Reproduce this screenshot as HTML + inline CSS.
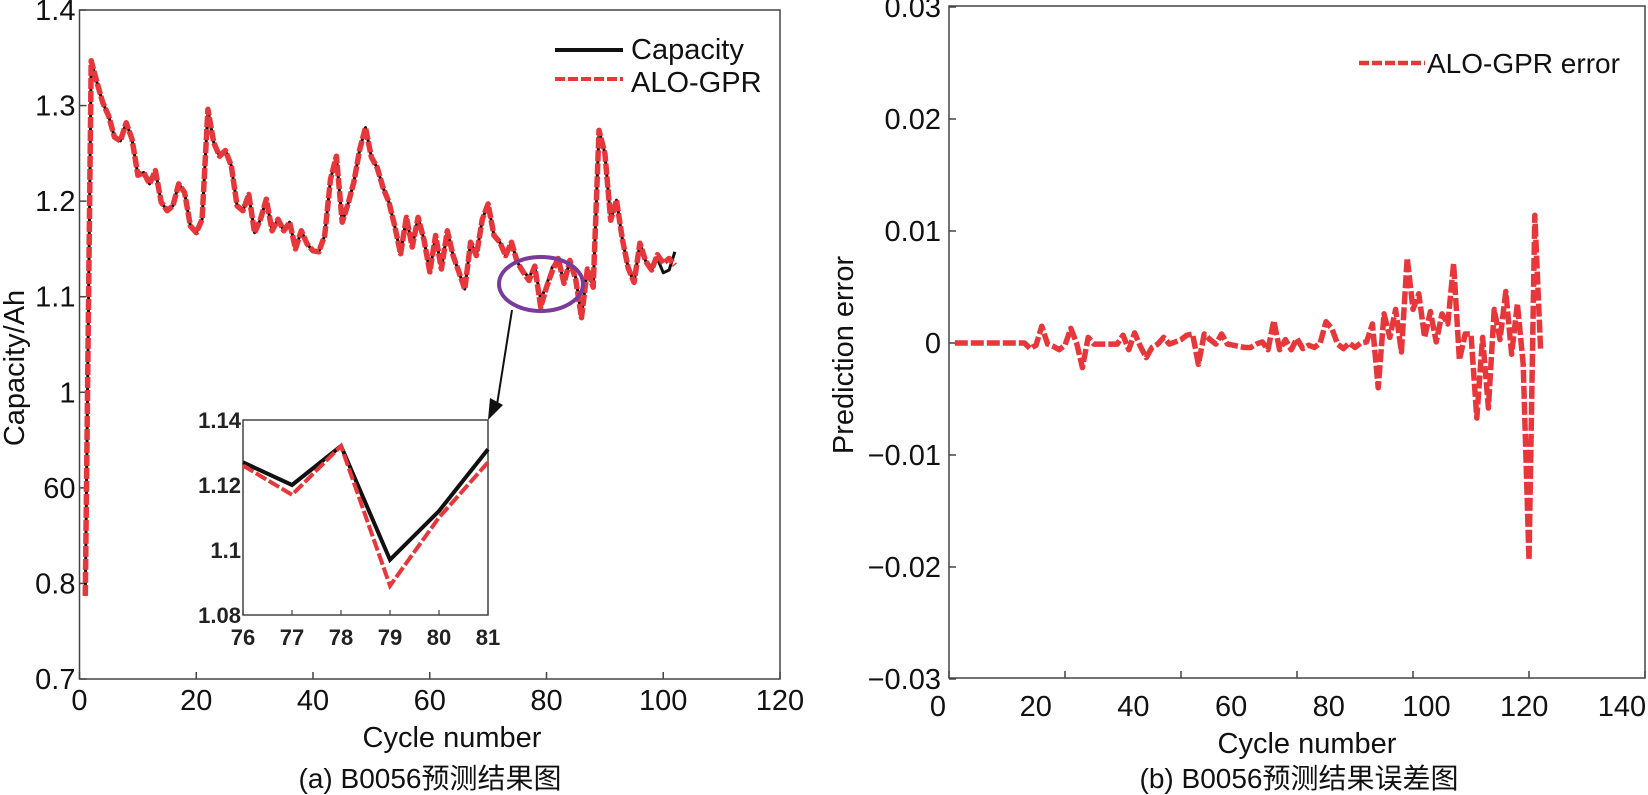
<!DOCTYPE html>
<html><head><meta charset="utf-8"><style>
html,body{margin:0;padding:0;background:#fff;}
svg{display:block;font-family:"Liberation Sans","Noto Sans CJK SC",sans-serif;}
</style></head><body>
<svg id="fig" width="1648" height="795" viewBox="0 0 1648 795">
<g id="left"></g>
<g id="right"></g>
</svg>
<script>
const capCycles=[];for(let i=1;i<=102;i++)capCycles.push(i);
const capacity=[0.787,1.347,1.324,1.303,1.289,1.267,1.263,1.282,1.265,1.227,1.230,1.218,1.232,1.199,1.190,1.195,1.218,1.209,1.174,1.167,1.181,1.296,1.261,1.247,1.253,1.237,1.195,1.190,1.207,1.167,1.181,1.202,1.169,1.181,1.169,1.178,1.150,1.169,1.155,1.148,1.147,1.164,1.223,1.247,1.178,1.197,1.220,1.254,1.277,1.246,1.235,1.214,1.199,1.174,1.145,1.183,1.152,1.183,1.160,1.126,1.164,1.129,1.169,1.143,1.126,1.108,1.157,1.143,1.181,1.197,1.164,1.157,1.143,1.157,1.136,1.127,1.120,1.132,1.097,1.112,1.131,1.140,1.114,1.138,1.120,1.080,1.129,1.110,1.274,1.250,1.180,1.201,1.160,1.130,1.115,1.156,1.137,1.128,1.140,1.125,1.128,1.147];
const predicted=[0.787,1.347,1.324,1.303,1.289,1.267,1.263,1.282,1.265,1.227,1.230,1.218,1.232,1.199,1.190,1.195,1.218,1.209,1.174,1.167,1.181,1.296,1.261,1.247,1.253,1.237,1.195,1.190,1.207,1.167,1.181,1.202,1.169,1.181,1.169,1.178,1.150,1.169,1.155,1.148,1.147,1.164,1.223,1.247,1.178,1.197,1.220,1.254,1.277,1.246,1.235,1.214,1.199,1.174,1.145,1.183,1.152,1.183,1.160,1.126,1.164,1.129,1.169,1.143,1.126,1.108,1.157,1.143,1.181,1.197,1.164,1.157,1.143,1.157,1.136,1.126,1.117,1.132,1.089,1.110,1.127,1.140,1.114,1.138,1.118,1.078,1.129,1.110,1.274,1.250,1.180,1.201,1.160,1.130,1.115,1.156,1.137,1.128,1.144,1.135,1.140,1.133];
const leftXTicks=[0,20,40,60,80,100,120];
const leftYTicks=[0.7,0.8,0.9,1.0,1.1,1.2,1.3,1.4];
const leftYLabels=["0.7","0.8","60","1","1.1","1.2","1.3","1.4"];
const insetCycles=[76,77,78,79,80,81];
const insetCap=[1.127,1.120,1.132,1.097,1.112,1.131];
const insetPred=[1.126,1.117,1.132,1.089,1.110,1.127];
const insetYTicks=[1.08,1.1,1.12,1.14];
const insetYLabels=["1.08","1.1","1.12","1.14"];
const errCycles=[];for(let i=1;i<=102;i++)errCycles.push(i);
const errors=[0,0,0,0,0,0,0,0,0,0,0,0,0,-0.0005,-0.0002,0.0015,-0.0001,-0.0003,-0.0006,-0.0002,0.0013,0,-0.0022,0.0005,-0.0001,-0.0001,-0.0001,-0.0001,-0.0001,0.0007,-0.0006,0.0009,-0.0003,-0.0013,-0.0004,-0.0001,0.0005,-0.0001,0.0001,0.0003,0.0007,0.0008,-0.0019,0.0008,0.0003,-0.0001,0.0008,-0.0001,-0.0002,-0.0003,-0.0004,-0.0004,-0.0001,0.0001,-0.0006,0.0020,-0.0006,0.0003,-0.0006,0.0004,-0.0005,-0.0002,-0.0004,0,0.0019,0.0013,-0.0001,-0.0005,0,-0.0004,0,0.0001,0.0017,-0.0040,0.0026,0.0005,0.0030,-0.0008,0.0076,0.0030,0.0044,0.0005,0.0028,0.0001,0.0026,0.0017,0.0071,-0.0015,0.0008,0.0008,-0.0067,0.0005,-0.0058,0.0030,0.0003,0.0046,-0.0010,0.0035,-0.0019,-0.0194,0.0114,-0.0006];
const rightXTicks=[0,20,40,60,80,100,120];
const rightXLabels=["0","20","40","60","80","100","120","140"];
const rightYTicks=[-0.03,-0.02,-0.01,0,0.01,0.02,0.03];
const rightYLabels=["\u22120.03","\u22120.02","\u22120.01","0","0.01","0.02","0.03"];

const NS="http://www.w3.org/2000/svg";
function mk(parent,tag,attrs,text){const e=document.createElementNS(NS,tag);for(const k in attrs)e.setAttribute(k,attrs[k]);if(text!==undefined)e.textContent=text;parent.appendChild(e);return e;}
function pts(xs,ys,fx,fy){return xs.map((x,i)=>fx(x).toFixed(1)+","+fy(ys[i]).toFixed(1)).join(" ");}

// LEFT
const L=document.getElementById('left');
const LX0=79.5,LX1=780,LY0=679,LY1=10;
const xL=c=>LX0+c*(LX1-LX0)/120;
const yL=v=>LY0-(v-0.7)*(LY0-LY1)/0.7;
let e;
e=mk(L,'rect',{x:LX0,y:LY1,width:LX1-LX0,height:LY0-LY1,fill:'none',stroke:'#444','stroke-width':1.5});


leftXTicks.forEach(t=>{
 e=mk(L,'line',{x1:xL(t),x2:xL(t),y1:LY0,y2:LY0-7,stroke:'#444','stroke-width':1.5});
 
 
 e=mk(L,'text',{x:xL(t),y:LY0+31,'font-size':29,'text-anchor':'middle',fill:'#111'},String(t));
 
 
});
leftYTicks.forEach((t,i)=>{
 e=mk(L,'line',{x1:LX0,x2:LX0+7,y1:yL(t),y2:yL(t),stroke:'#444','stroke-width':1.5});
 
 
 e=mk(L,'text',{x:LX0-4,y:yL(t)+10,'font-size':29,'text-anchor':'end',fill:'#111'},leftYLabels[i]);
 
 
});
e=mk(L,'polyline',{points:pts(capCycles,capacity,xL,yL),fill:'none',stroke:'#111','stroke-width':3,'stroke-linejoin':'round'});


e=mk(L,'polyline',{points:pts(capCycles,predicted,xL,yL),fill:'none',stroke:'#e8373a','stroke-width':5.5,'stroke-dasharray':'11 2','stroke-linejoin':'round'});


// legend
e=mk(L,'line',{x1:555,x2:623,y1:50,y2:50,stroke:'#111','stroke-width':4});


e=mk(L,'text',{x:631,y:59,'font-size':29,fill:'#111'},'Capacity');


e=mk(L,'line',{x1:555,x2:623,y1:79,y2:79,stroke:'#e8373a','stroke-width':4,'stroke-dasharray':'10 3'});


e=mk(L,'text',{x:631,y:92,'font-size':29,fill:'#111'},'ALO-GPR');


// ellipse + arrow
e=mk(L,'ellipse',{cx:541,cy:284,rx:42,ry:27,fill:'none',stroke:'#7a3b9a','stroke-width':4});


e=mk(L,'line',{x1:512,y1:310,x2:496,y2:411,stroke:'#111','stroke-width':2});


e=mk(L,'polygon',{points:'488,420 490,398 503,405',fill:'#111'});


// inset
const IX0=243,IX1=488,IY0=615,IY1=420;
const xI=c=>IX0+(c-76)*(IX1-IX0)/5;
const yI=v=>IY0-(v-1.08)*(IY0-IY1)/0.06;
e=mk(L,'rect',{x:IX0,y:IY1,width:IX1-IX0,height:IY0-IY1,fill:'#fff',stroke:'#444','stroke-width':1.5});


insetCycles.forEach(t=>{
 e=mk(L,'line',{x1:xI(t),x2:xI(t),y1:IY0,y2:IY0-5,stroke:'#444','stroke-width':1.2});
 
 
 e=mk(L,'text',{x:xI(t),y:IY0+30,'font-size':22,'font-weight':'bold','text-anchor':'middle',fill:'#222','font-family':'Liberation Sans Narrow, Liberation Sans, sans-serif'},String(t));
 
 
});
insetYTicks.forEach((t,i)=>{
 e=mk(L,'text',{x:IX0-2,y:yI(t)+8,'font-size':22,'font-weight':'bold','text-anchor':'end',fill:'#222','font-family':'Liberation Sans Narrow, Liberation Sans, sans-serif'},insetYLabels[i]);
 
 
});
e=mk(L,'polyline',{points:pts(insetCycles,insetCap,xI,yI),fill:'none',stroke:'#111','stroke-width':4});


e=mk(L,'polyline',{points:pts(insetCycles,insetPred,xI,yI),fill:'none',stroke:'#e8373a','stroke-width':4,'stroke-dasharray':'12 3'});


e=mk(L,'text',{x:452,y:747,'font-size':29,'text-anchor':'middle',fill:'#111'},'Cycle number');


e=mk(L,'text',{x:0,y:0,'font-size':29,'text-anchor':'middle',fill:'#111',transform:'translate(24,368) rotate(-90)'},'Capacity/Ah');


e=mk(L,'text',{x:430,y:788,'font-size':28,'text-anchor':'middle',fill:'#111'},'(a) B0056预测结果图');



// RIGHT
const R=document.getElementById('right');
const RX0=949,RX1=1645,RY0=678,RY1=6;
const xR=c=>RX0+c*(RX1-RX0)/120;
const yR=v=>343-v*(RY0-RY1)/0.06;
e=mk(R,'rect',{x:RX0,y:RY1,width:RX1-RX0,height:RY0-RY1,fill:'none',stroke:'#444','stroke-width':1.5});


rightXTicks.forEach(t=>{
 e=mk(R,'line',{x1:xR(t),x2:xR(t),y1:RY0,y2:RY0-7,stroke:'#444','stroke-width':1.5});
 
 
});
rightXLabels.forEach((lab,i)=>{
 e=mk(R,'text',{x:938+i*97.7,y:716,'font-size':29,'text-anchor':'middle',fill:'#111'},lab);
 
 
});
rightYTicks.forEach((t,i)=>{
 e=mk(R,'line',{x1:RX0,x2:RX0+7,y1:yR(t),y2:yR(t),stroke:'#444','stroke-width':1.5});
 
 
 e=mk(R,'text',{x:RX0-8,y:yR(t)+10,'font-size':29,'text-anchor':'end',fill:'#111'},rightYLabels[i]);
 
 
});
e=mk(R,'polyline',{points:pts(errCycles,errors,xR,yR),fill:'none',stroke:'#e8373a','stroke-width':5.5,'stroke-dasharray':'13 3','stroke-linejoin':'round'});


e=mk(R,'line',{x1:1359,x2:1425,y1:63,y2:63,stroke:'#e8373a','stroke-width':4.5,'stroke-dasharray':'10 3'});


e=mk(R,'text',{x:1427,y:73,'font-size':28,fill:'#111'},'ALO-GPR error');


e=mk(R,'text',{x:1307,y:753,'font-size':29,'text-anchor':'middle',fill:'#111'},'Cycle number');


e=mk(R,'text',{x:0,y:0,'font-size':29,'text-anchor':'middle',fill:'#111',transform:'translate(853,355) rotate(-90)'},'Prediction error');


e=mk(R,'text',{x:1299,y:788,'font-size':28,'text-anchor':'middle',fill:'#111'},'(b) B0056预测结果误差图');


</script>
</body></html>
